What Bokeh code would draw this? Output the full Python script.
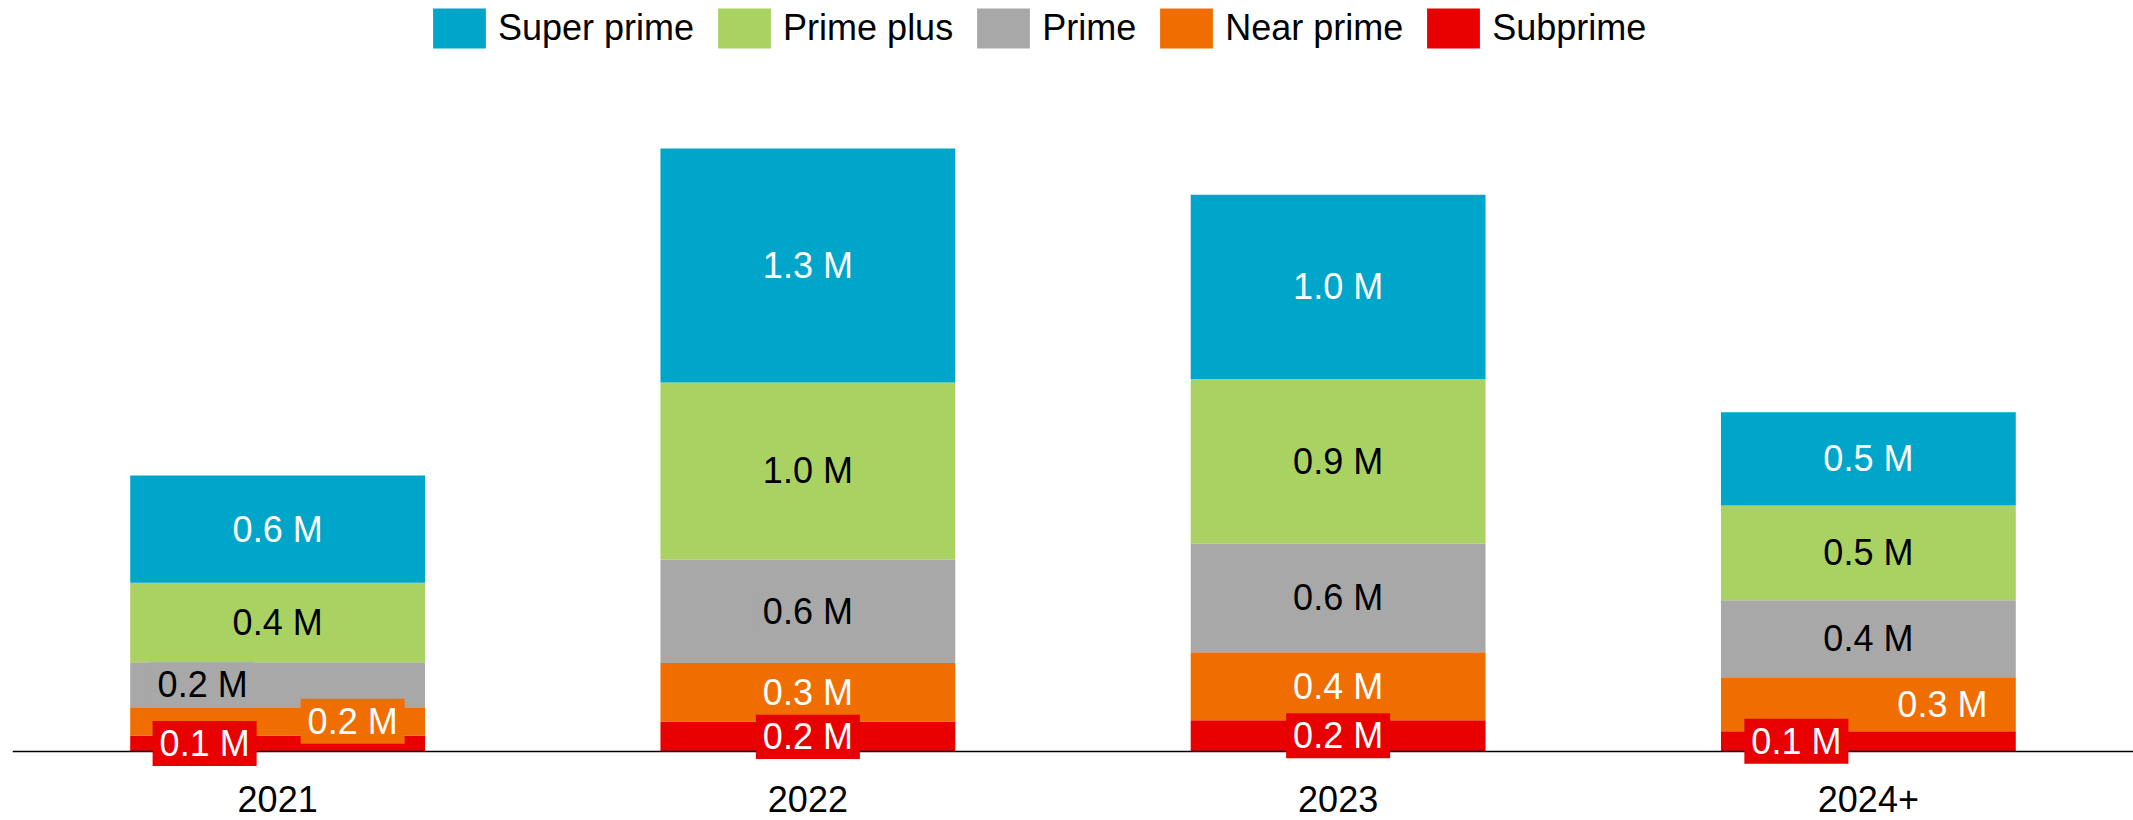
from bokeh.plotting import figure
from bokeh.models import ColumnDataSource, FactorRange, Legend, LegendItem, Range1d
from bokeh.embed import file_html
from bokeh.resources import INLINE
from bokeh.core.properties import value

# ---- data (millions of accounts) ----
years = ["2021", "2022", "2023", "2024+"]
series = ["Subprime", "Near prime", "Prime", "Prime plus", "Super prime"]
subprime = [0.089, 0.167, 0.174, 0.113]
near_prime = [0.157, 0.325, 0.378, 0.300]
prime = [0.250, 0.575, 0.604, 0.427]
prime_plus = [0.441, 0.983, 0.914, 0.527]
super_prime = [0.596, 1.300, 1.023, 0.518]

colors = ["#E80000", "#F06E00", "#A8A8A8", "#AAD262", "#00A6CA"]
text_colors = ["white", "white", "black", "black", "white"]
FONT = "Liberation Sans"

values = [subprime, near_prime, prime, prime_plus, super_prime]
src = ColumnDataSource(dict(year=years, **{s: v for s, v in zip(series, values)}))

PX_PER_M = 180.0
BASE_PX = 751.0
H = 820
p = figure(x_range=FactorRange(factors=years, range_padding=0),
           y_range=Range1d(-(H - BASE_PX) / PX_PER_M, BASE_PX / PX_PER_M),
           width=2133, height=H, output_backend="svg", toolbar_location=None,
           min_border_left=12, min_border_right=0, min_border_top=0, min_border_bottom=0)

rends = p.vbar_stack(series, x="year", width=0.556, color=colors, line_color=None, source=src)

# baseline (drawn after the bars, before the value labels)
p.hspan(y=[0], line_color="black", line_width=1.5)

# segment labels
offsets = {("2021", "Prime"): -75, ("2021", "Near prime"): 75, ("2021", "Subprime"): -73,
           ("2024+", "Near prime"): 74, ("2024+", "Subprime"): -72}
lx, ly, lt, lc, lb, lo = [], [], [], [], [], []
for i, y in enumerate(years):
    base = 0.0
    for j, s in enumerate(series):
        v = values[j][i]
        lx.append(y)
        ly.append(base + v / 2)
        lt.append(f"{v:.1f} M")
        lc.append(text_colors[j])
        lb.append(colors[j])
        lo.append(offsets.get((y, s), 0))
        base += v
lsrc = ColumnDataSource(dict(x=lx, y=ly, t=lt, c=lc, bg=lb, xo=lo))
p.text(x="x", y="y", text="t", source=lsrc, text_color="c", x_offset="xo",
       text_align="center", text_baseline="middle", text_font=value(FONT),
       text_font_size="36px", background_fill_color="bg",
       padding=dict(left=7, right=7, top=2, bottom=2))

# category labels under the baseline
csrc = ColumnDataSource(dict(x=years, y=[-(798.5 - BASE_PX) / PX_PER_M] * len(years), t=years))
p.text(x="x", y="y", text="t", source=csrc, text_color="black",
       text_align="center", text_baseline="middle", text_font=value(FONT),
       text_font_size="36px")

legend = Legend(items=[LegendItem(label=s, renderers=[r]) for s, r in reversed(list(zip(series, rends)))],
                orientation="horizontal", location=(414, H - 53),
                glyph_width=66, glyph_height=50, label_standoff=6, spacing=17,
                padding=0, margin=0, label_text_font_size="36px", label_text_font=FONT,
                label_text_color="black", border_line_color=None, background_fill_alpha=0)
p.add_layout(legend)

p.xgrid.grid_line_color = None
p.ygrid.grid_line_color = None
p.xaxis.visible = False
p.yaxis.visible = False
p.outline_line_color = None

open("out.html", "w").write(file_html(p, INLINE))
